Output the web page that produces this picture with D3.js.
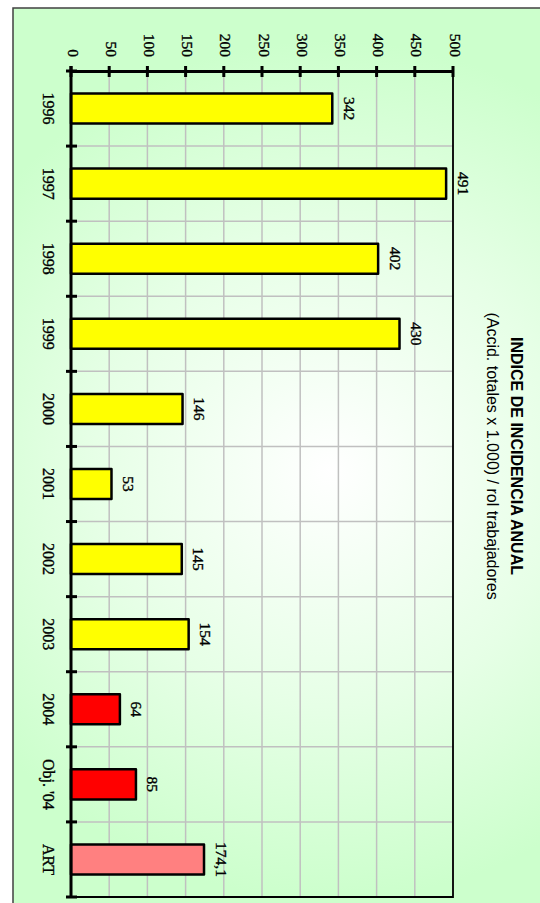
<!DOCTYPE html>
<html>
<head>
<meta charset="utf-8">
<script src="https://cdn.jsdelivr.net/npm/d3@7"></script>
<style>
  html, body { margin: 0; padding: 0; background: #ffffff; }
  svg { display: block; }
</style>
</head>
<body>
<svg id="chart" width="540" height="903"></svg>
<script>
// Annual incidence index per year, target and reference value
const categories = ["1996", "1997", "1998", "1999", "2000", "2001", "2002", "2003", "2004", "Obj. '04", "ART"];
const values = [342, 491, 402, 430, 146, 53, 145, 154, 64, 85, 174.1];
const barColors = ["#FFFF00", "#FFFF00", "#FFFF00", "#FFFF00", "#FFFF00", "#FFFF00", "#FFFF00", "#FFFF00", "#FF0000", "#FF0000", "#FF8080"];
const valueTicks = [0, 50, 100, 150, 200, 250, 300, 350, 400, 450, 500];
const titleText = "INDICE DE INCIDENCIA ANUAL";
const subtitleText = "(Accid. totales x 1.000) / rol trabajadores";

const svg = d3.select("#chart");

// Chart frame with soft radial fill
const defs = svg.append("defs");
const grad = defs.append("radialGradient")
  .attr("id", "bgGrad")
  .attr("gradientUnits", "userSpaceOnUse")
  .attr("cx", 330).attr("cy", 470).attr("r", 430);
grad.append("stop").attr("offset", "0").attr("stop-color", "#ffffff");
grad.append("stop").attr("offset", "0.55").attr("stop-color", "#e6ffe6");
grad.append("stop").attr("offset", "1").attr("stop-color", "#ccffcc");

svg.append("rect")
  .attr("x", 13).attr("y", 8)
  .attr("width", 560).attr("height", 920)
  .attr("fill", "url(#bgGrad)")
  .attr("stroke", "#404040")
  .attr("stroke-width", 1.5);

// Plot region: value axis runs left to right, categories top to bottom
const plot = { left: 71, right: 453, top: 71, bottom: 897 };

const x = d3.scaleLinear().domain([0, 500]).range([plot.left, plot.right]);
const y = d3.scaleBand().domain(categories)
  .range([plot.top, plot.bottom])
  .paddingInner(0.6).paddingOuter(0.3);

const step = y.step();
const boundaries = d3.range(categories.length + 1).map(i => plot.top + i * step);

// Shared text styling: serif labels drawn slightly heavier
const serifLabel = sel => sel
  .attr("font-family", "'Liberation Serif', 'Times New Roman', serif")
  .attr("fill", "#000")
  .attr("stroke", "#000")
  .attr("stroke-width", 0.35);

// Grid lines
svg.append("g").selectAll("line.vgrid")
  .data(valueTicks.slice(1))
  .join("line")
  .attr("x1", d => x(d)).attr("x2", d => x(d))
  .attr("y1", plot.top).attr("y2", plot.bottom)
  .attr("stroke", "#c0c0c0").attr("stroke-width", 1.5);

svg.append("g").selectAll("line.hgrid")
  .data(boundaries.slice(1, -1))
  .join("line")
  .attr("x1", plot.left).attr("x2", plot.right)
  .attr("y1", d => d).attr("y2", d => d)
  .attr("stroke", "#c0c0c0").attr("stroke-width", 1.5);

// Plot border (right and bottom)
svg.append("path")
  .attr("d", `M${plot.right},${plot.top}V${plot.bottom}H${plot.left}`)
  .attr("fill", "none")
  .attr("stroke", "#000").attr("stroke-width", 1.8);

// Bars
svg.append("g").selectAll("rect")
  .data(categories)
  .join("rect")
  .attr("x", x(0))
  .attr("y", d => y(d))
  .attr("width", (d, i) => x(values[i]) - x(0))
  .attr("height", y.bandwidth())
  .attr("fill", (d, i) => barColors[i])
  .attr("stroke", "#000")
  .attr("stroke-width", 2.5)
  .attr("stroke-linejoin", "round");

// Value axis along the top
const xAxis = d3.axisTop(x).tickValues(valueTicks).tickSize(0).tickFormat("");
svg.append("g")
  .attr("transform", `translate(0,${plot.top})`)
  .call(xAxis)
  .call(g => g.select(".domain").attr("stroke", "#000").attr("stroke-width", 3));

svg.append("g").selectAll("line")
  .data(valueTicks)
  .join("line")
  .attr("x1", d => x(d)).attr("x2", d => x(d))
  .attr("y1", plot.top - 5).attr("y2", plot.top + 6)
  .attr("stroke", "#000").attr("stroke-width", 3);

svg.append("g").selectAll("text")
  .data(valueTicks)
  .join("text")
  .attr("transform", d => `translate(${x(d) + 2},57) rotate(90)`)
  .attr("text-anchor", "end")
  .attr("dominant-baseline", "central")
  .attr("font-size", 15.5)
  .call(serifLabel)
  .text(d => d);

// Category axis along the left
svg.append("line")
  .attr("x1", plot.left).attr("x2", plot.left)
  .attr("y1", plot.top - 5).attr("y2", plot.bottom + 1)
  .attr("stroke", "#000").attr("stroke-width", 3);

svg.append("g").selectAll("line")
  .data(boundaries)
  .join("line")
  .attr("x1", plot.left - 5).attr("x2", plot.left + 6)
  .attr("y1", d => d).attr("y2", d => d)
  .attr("stroke", "#000").attr("stroke-width", 3);

svg.append("g").selectAll("text")
  .data(categories)
  .join("text")
  .attr("transform", d => `translate(48,${y(d) + y.bandwidth() / 2}) rotate(90)`)
  .attr("text-anchor", "middle")
  .attr("dominant-baseline", "central")
  .attr("font-size", 16)
  .call(serifLabel)
  .text(d => d);

// Value labels at the end of each bar
svg.append("g").selectAll("text")
  .data(categories)
  .join("text")
  .attr("transform", (d, i) => `translate(${x(values[i]) + 17},${y(d) + y.bandwidth() / 2}) rotate(90)`)
  .attr("text-anchor", "middle")
  .attr("dominant-baseline", "central")
  .attr("font-size", 15.5)
  .call(serifLabel)
  .text((d, i) => String(values[i]).replace(".", ","));

// Title block
const titleY = 456;
svg.append("text")
  .attr("transform", `translate(516,${titleY}) rotate(90)`)
  .attr("text-anchor", "middle")
  .attr("dominant-baseline", "central")
  .attr("font-family", "'Liberation Sans', Arial, sans-serif")
  .attr("font-weight", "bold")
  .attr("font-size", 16)
  .attr("fill", "#000")
  .text(titleText);

svg.append("text")
  .attr("transform", `translate(492,${titleY}) rotate(90)`)
  .attr("text-anchor", "middle")
  .attr("dominant-baseline", "central")
  .attr("font-family", "'Liberation Sans', Arial, sans-serif")
  .attr("font-size", 16)
  .attr("fill", "#000")
  .text(subtitleText);
</script>
</body>
</html>
